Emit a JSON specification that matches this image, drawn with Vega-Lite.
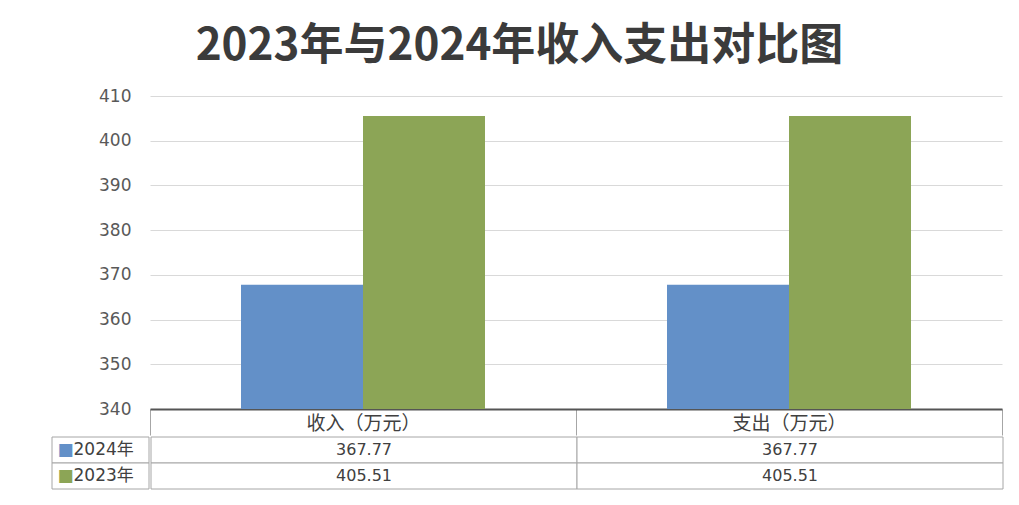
{
  "$schema": "https://vega.github.io/schema/vega-lite/v6.json",
  "padding": {"left": 51, "top": 25, "right": 10, "bottom": 5},
  "background": "white",
  "config": {"view": {"stroke": null}},
  "title": {
    "text": "2023年与2024年收入支出对比图",
    "font": "Noto Sans CJK SC",
    "fontSize": 44,
    "fontWeight": "bold",
    "color": "#3b3b3b",
    "anchor": "middle",
    "dx": -8,
    "offset": 18
  },
  "datasets": {
    "bars": [
      {"category": "收入（万元）", "year": "2024年", "value": 367.77},
      {"category": "收入（万元）", "year": "2023年", "value": 405.51},
      {"category": "支出（万元）", "year": "2024年", "value": 367.77},
      {"category": "支出（万元）", "year": "2023年", "value": 405.51}
    ]
  },
  "spacing": 0,
  "vconcat": [
    {
      "spacing": 0,
      "hconcat": [
        {
          "width": 97,
          "height": 313,
          "data": {"name": "bars"},
          "mark": {"type": "tick", "opacity": 0},
          "encoding": {
            "y": {
              "field": "value",
              "type": "quantitative",
              "scale": {"domain": [340, 410], "zero": false, "nice": false},
              "axis": {
                "orient": "left",
                "offset": -97,
                "values": [340, 350, 360, 370, 380, 390, 400, 410],
                "title": null,
                "domain": false,
                "ticks": false,
                "grid": false,
                "labelFont": "DejaVu Sans",
                "labelFontSize": 17,
                "labelColor": "#595959",
                "labelPadding": 18
              }
            }
          }
        },
        {
          "width": 852,
          "height": 313,
          "data": {"name": "bars"},
          "mark": {"type": "bar", "width": {"band": 1}},
          "encoding": {
            "x": {
              "field": "category",
              "type": "nominal",
              "sort": ["收入（万元）", "支出（万元）"],
              "scale": {"paddingInner": 0, "paddingOuter": 0},
              "axis": {
                "title": null,
                "domain": true,
                "domainColor": "#555555",
                "domainWidth": 2,
                "ticks": true,
                "tickBand": "extent",
                "tickSize": 26,
                "tickColor": "#a6a6a6",
                "tickWidth": 1,
                "labelFont": "Noto Sans CJK SC",
                "labelFontSize": 19,
                "labelColor": "#404040",
                "labelAngle": 0,
                "labelBaseline": "top",
                "labelPadding": -21,
                "minExtent": 26,
                "maxExtent": 26
              }
            },
            "xOffset": {
              "field": "year",
              "type": "nominal",
              "sort": ["2024年", "2023年"],
              "scale": {"paddingInner": 0, "paddingOuter": 0.746}
            },
            "y": {
              "field": "value",
              "type": "quantitative",
              "scale": {"domain": [340, 410], "zero": false, "nice": false},
              "axis": {
                "values": [340, 350, 360, 370, 380, 390, 400, 410],
                "title": null,
                "domain": false,
                "ticks": false,
                "labels": false,
                "grid": true,
                "gridColor": "#d9d9d9",
                "gridWidth": 1,
                "minExtent": 0,
                "maxExtent": 0
              }
            },
            "y2": {"datum": 340},
            "color": {
              "field": "year",
              "type": "nominal",
              "scale": {"domain": ["2024年", "2023年"], "range": ["#6390c8", "#8ca556"]},
              "legend": null
            }
          }
        }
      ]
    },
    {
      "spacing": 0,
      "hconcat": [
        {
          "width": 97,
          "height": 52,
          "data": {"name": "bars"},
          "transform": [{"filter": "datum.category == '收入（万元）'"}],
          "encoding": {
            "y": {
              "field": "year",
              "type": "nominal",
              "scale": {"domain": ["2024年", "2023年"], "paddingInner": 0, "paddingOuter": 0},
              "axis": null
            }
          },
          "layer": [
            {
              "mark": {"type": "rect", "fill": "white", "stroke": "#a6a6a6", "strokeWidth": 1}
            },
            {
              "mark": {"type": "text", "text": "■", "font": "DejaVu Sans", "fontSize": 17, "align": "center", "baseline": "middle", "dx": -35},
              "encoding": {
                "color": {
                  "field": "year",
                  "type": "nominal",
                  "scale": {"domain": ["2024年", "2023年"], "range": ["#6390c8", "#8ca556"]},
                  "legend": null
                }
              }
            },
            {
              "mark": {"type": "text", "font": "DejaVu Sans, Noto Sans CJK SC", "fontSize": 17, "color": "#404040", "align": "left", "baseline": "middle", "dx": -27},
              "encoding": {"text": {"field": "year", "type": "nominal"}}
            }
          ]
        },
        {
          "width": 852,
          "height": 52,
          "data": {"name": "bars"},
          "encoding": {
            "x": {
              "field": "category",
              "type": "nominal",
              "sort": ["收入（万元）", "支出（万元）"],
              "scale": {"paddingInner": 0, "paddingOuter": 0},
              "axis": null
            },
            "y": {
              "field": "year",
              "type": "nominal",
              "scale": {"domain": ["2024年", "2023年"], "paddingInner": 0, "paddingOuter": 0},
              "axis": null
            }
          },
          "layer": [
            {
              "mark": {"type": "rect", "fill": "white", "stroke": "#a6a6a6", "strokeWidth": 1}
            },
            {
              "mark": {"type": "text", "font": "DejaVu Sans", "fontSize": 16, "color": "#404040", "baseline": "middle"},
              "encoding": {
                "text": {"field": "value", "type": "quantitative", "format": ".2f"}
              }
            }
          ]
        }
      ]
    }
  ]
}
